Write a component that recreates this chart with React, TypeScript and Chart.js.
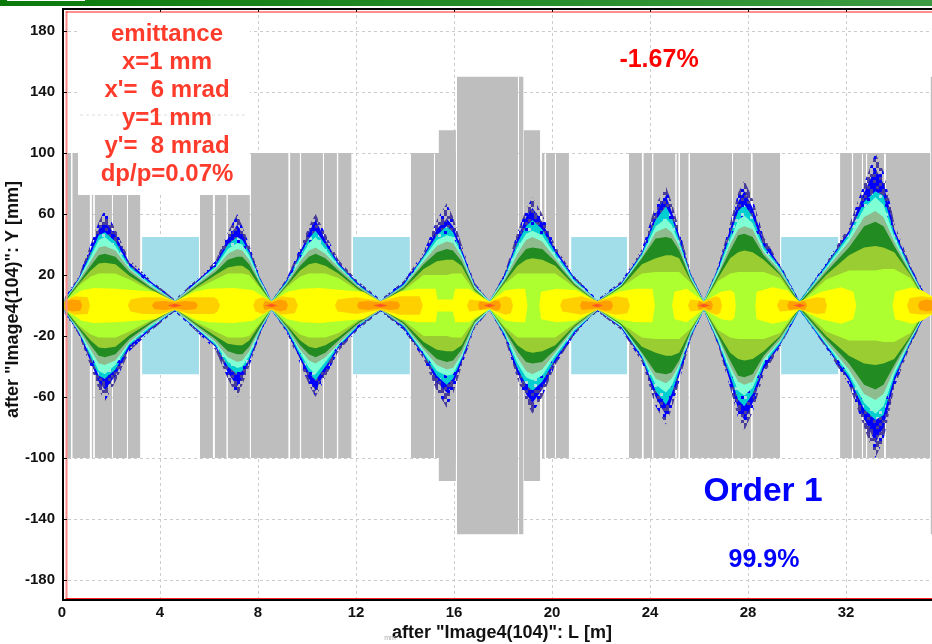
import React, { useEffect, useRef } from "react";
import { Chart, registerables } from "chart.js";

Chart.register(...registerables);

const xTicks = [0, 4, 8, 12, 16, 20, 24, 28, 32];
const yTicks = [-180, -140, -100, -60, -20, 20, 60, 100, 140, 180];

// beam-line elements: start [m], end [m], half aperture [mm]
const apertureStart = [0.2, 0.42, 1.21, 1.33, 2.08, 2.69, 5.63, 6.23, 6.76, 7.71, 9.31, 9.76, 10.69, 11.27, 14.24, 15.22, 15.37, 16.12, 18.65, 18.84, 19.59, 19.76, 20.16, 23.14, 23.73, 24.13, 25.08, 25.22, 25.63, 27.39, 28.18, 31.76, 32.29, 32.69, 32.86, 33.62, 35.45];
const apertureEnd = [0.37, 1.14, 1.28, 2.04, 2.65, 3.2, 6.16, 6.72, 7.67, 9.25, 9.71, 10.65, 11.22, 11.82, 15.18, 16.08, 16.08, 18.61, 18.84, 19.52, 19.7, 20.12, 20.69, 23.67, 24.09, 25.04, 25.17, 25.58, 27.35, 28.12, 29.31, 32.24, 32.65, 32.82, 33.56, 35.43, 35.7];
const apertureHalf = [100, 100, 100, 100, 100, 100, 100, 100, 100, 100, 100, 100, 100, 100, 100, 100, 115, 150, 150, 115, 100, 100, 100, 100, 100, 100, 100, 100, 100, 100, 100, 100, 100, 100, 100, 100, 150];

const driftStart = [3.27, 11.87, 20.78, 29.35];
const driftEnd = [5.59, 14.2, 23.07, 31.69];
const driftHalf = [45, 45, 45, 45];

// beam density envelope stations [m]
const stations = [
  0.1, 0.68, 1.17, 1.5, 1.75, 2.18, 2.75, 3.6,
  4.6, 5.49, 6.26, 6.77, 7.15, 7.36, 7.64, 8.06,
  8.55, 9.18, 9.72, 10.08, 10.35, 10.75, 11.28, 12.07,
  13, 13.95, 14.76, 15.3, 15.7, 15.96, 16.31, 16.84,
  17.45, 18.06, 18.59, 18.94, 19.2, 19.6, 20.13, 20.92,
  21.85, 22.83, 23.67, 24.23, 24.65, 24.88, 25.19, 25.66,
  26.2, 26.78, 27.27, 27.6, 27.85, 28.19, 28.64, 29.31,
  30.1, 31.19, 32.12, 32.74, 33.2, 33.53, 33.97, 34.63,
  35.2, 35.6,
];
const halfIndigo = [5, 19, 40, 55, 63, 50, 30, 17, 4, 17, 29, 48, 60, 52, 40, 20, 3, 18, 38, 52, 60, 47, 30, 16, 4, 16, 35, 56, 67, 58, 40, 15, 3, 21, 48, 63, 71, 60, 39, 19, 4, 16, 37, 66, 78, 68, 50, 22, 3, 26, 54, 74, 82, 70, 45, 27, 3, 28, 52, 80, 100, 88, 54, 26, 8, 5];
const halfBlue = [4, 18, 37, 50, 55, 46, 28, 16, 3, 16, 27, 44, 53, 47, 37, 19, 3, 17, 35, 48, 56, 43, 28, 15, 3, 15, 33, 50, 57, 52, 37, 14, 3, 20, 44, 58, 64, 55, 37, 18, 3, 15, 35, 60, 72, 62, 46, 21, 3, 25, 50, 68, 75, 64, 42, 26, 3, 27, 49, 74, 90, 80, 50, 25, 7, 4];
const halfTurquoise = [4, 17, 34, 46, 48, 42, 26, 15, 3, 15, 26, 40, 45, 43, 35, 18, 3, 16, 33, 44, 49, 40, 27, 14, 3, 14, 32, 46, 52, 48, 35, 13, 3, 19, 41, 52, 56, 50, 35, 17, 3, 14, 34, 56, 65, 58, 43, 20, 3, 24, 46, 62, 66, 58, 39, 25, 3, 26, 47, 68, 75, 72, 47, 24, 6, 4];
const halfAqua = [3, 17, 32, 43, 45, 39, 25, 14, 3, 15, 25, 37, 41, 40, 33, 17, 3, 15, 31, 41, 45, 37, 26, 13, 3, 13, 31, 43, 46, 45, 34, 13, 3, 18, 38, 47, 49, 46, 33, 16, 3, 14, 33, 52, 57, 53, 41, 19, 3, 23, 43, 56, 59, 54, 37, 24, 2, 25, 45, 64, 71, 66, 45, 23, 6, 3];
const halfSeaGreen = [3, 16, 29, 38, 39, 36, 24, 13, 3, 14, 24, 34, 37, 36, 30, 16, 2, 15, 29, 36, 38, 34, 25, 13, 3, 13, 29, 39, 42, 41, 32, 12, 2, 17, 34, 43, 45, 42, 31, 15, 3, 13, 32, 48, 51, 48, 39, 18, 2, 21, 40, 50, 52, 50, 35, 23, 2, 24, 42, 58, 62, 58, 42, 22, 5, 3];
const halfForest = [3, 15, 26, 33, 34, 32, 22, 12, 2, 13, 22, 30, 32, 32, 27, 15, 2, 14, 26, 32, 34, 31, 23, 12, 2, 12, 27, 35, 37, 36, 29, 11, 2, 16, 30, 37, 38, 37, 29, 14, 2, 13, 31, 44, 45, 44, 36, 17, 2, 20, 36, 46, 47, 45, 33, 21, 2, 22, 38, 52, 55, 52, 39, 21, 5, 3];
const halfYellowGreen = [2, 14, 23, 27.5, 28, 27, 19.5, 11, 2, 12, 20, 25, 26, 26, 23, 13, 2, 13, 23, 27, 28, 26, 21, 11, 2, 11, 24, 29, 30, 30, 26, 10, 2, 15, 26, 30, 31, 30, 26, 13, 2, 12, 27, 31, 33, 33, 31, 16, 2, 18, 31, 35, 36, 35, 30, 20, 1, 20, 33, 38, 39, 38, 35, 20, 4, 2];
const halfGreenYellow = [2, 13, 19, 21, 21, 21, 17, 10, 2, 11, 17, 21, 21, 21, 20, 12, 2, 12, 19, 21, 21, 21, 18, 10, 2, 10, 20, 20, 20, 21, 21, 9, 2, 14, 21, 21, 21, 21, 21, 12, 2, 12, 21, 22, 22, 22, 22, 15, 2, 16, 21, 22, 22, 22, 22, 18, 1, 17, 23, 23, 23, 24, 24, 18, 4, 2];

const yellowStations = [0.1, 0.8, 1.3, 2.2, 3.8, 4.6, 5.4, 6, 7, 7.8, 8.55, 9.2, 9.8, 10.5, 11.5, 12.3, 13, 13.8, 14.5, 15.25, 15.32, 15.95, 16.05, 16.6, 17.45, 18.1, 18.6, 18.9, 19, 19.48, 19.55, 20.2, 21, 21.85, 22.7, 23.4, 24.1, 24.2, 24.9, 25, 25.5, 26.2, 26.9, 27.3, 27.45, 27.5, 28.3, 28.35, 29, 29.6, 30.1, 31, 31.8, 32.3, 32.42, 33.9, 34, 34.7, 35.1, 35.6];
const halfYellow = [2.5, 10, 11.5, 11, 9, 2.5, 9, 11, 11.5, 10, 2.5, 9, 11, 11.5, 10, 9, 2.5, 9, 11, 11, 4, 4, 11, 11, 2.5, 10, 11, 11, 0, 0, 9, 11, 10, 2.5, 9, 11, 11, 0, 0, 9, 11, 2.5, 9, 10, 8, 0, 0, 9, 12, 10, 2.5, 9, 12, 9, 0, 0, 9, 12, 10, 5];

const goldStations = [0.1, 0.5, 1.05, 1.14, 2.69, 2.8, 3.3, 4, 4.6, 5.2, 6.2, 6.35, 6.45, 7.8, 7.9, 8.2, 8.55, 8.95, 9.5, 9.63, 11.14, 11.25, 12, 13, 13.8, 14.6, 14.73, 16.53, 16.63, 17.45, 18.1, 18.32, 18.41, 20.33, 20.43, 21.2, 21.85, 22.6, 23.08, 23.18, 25.55, 25.65, 26.2, 26.7, 26.86, 26.94, 29.18, 29.3, 30.1, 30.8, 31.14, 31.22, 34.49, 34.6, 35.1, 35.6];
const halfGold = [3, 6, 5.5, 0, 0, 4, 5.5, 5.5, 3, 5.5, 5.5, 4, 0, 0, 4, 5.5, 3, 6, 5, 0, 0, 4, 5.5, 3, 6, 6, 0, 0, 4, 2.5, 6, 5, 0, 0, 4, 6, 3, 6, 5, 0, 0, 4, 3, 6, 5, 0, 0, 4, 3, 5.5, 5, 0, 0, 5, 6, 5];

const orangeStations = [0.1, 0.4, 0.75, 0.82, 3.67, 3.78, 4.2, 4.6, 5, 5.45, 5.55, 8.2, 8.28, 8.55, 8.9, 9.15, 9.22, 12.04, 12.12, 12.5, 13, 13.4, 13.72, 13.8, 16.98, 17.05, 17.45, 17.7, 17.85, 17.92, 21.14, 21.22, 21.85, 22.2, 22.42, 22.49, 25.92, 26, 26.2, 26.4, 26.5, 26.57, 29.6, 29.68, 30.1, 30.25, 30.34, 30.41, 34.94, 35.02, 35.3, 35.6];
const halfOrange = [2.5, 4, 3.5, 0, 0, 2.5, 3, 2, 3, 2.5, 0, 0, 3, 2, 4, 3, 0, 0, 2.5, 3, 2, 3, 2.5, 0, 0, 3, 1.5, 3.5, 3, 0, 0, 3, 2, 3.5, 3, 0, 0, 3, 1.5, 3, 3, 0, 0, 3, 2, 3, 2.5, 0, 0, 3, 4, 3];

const coreStations = [4.3, 4.6, 4.9, 8.3, 8.55, 8.8, 12.7, 13, 13.3, 17.2, 17.45, 17.7, 21.6, 21.85, 22.1, 25.95, 26.2, 26.45, 29.85, 30.1, 30.35];
const halfCore = [0, 1.2, 0, 0, 1.2, 0, 0, 1.2, 0, 0, 1.2, 0, 0, 1.2, 0, 0, 1.2, 0, 0, 1.2, 0];

const emittanceLines = ["emittance", "x=1 mm", "x'=  6 mrad", "y=1 mm", "y'=  8 mrad", "dp/p=0.07%"];
const xTitle = '  after "Image4(104)": L [m]';
const yTitle = '  after "Image4(104)": Y [mm]';

// speckle textures of the sparse outer density cells
const indigoTile = ["ii.b.ii.", ".i.i..bi", "i.ii.b.i", "bi..ii..", ".i.bi..i", "i..i.bi.", "ii..i.i.", ".ib.i.ib"];
const blueTile = ["bbibb.ib", "ibbbibbb", "bb.ibbbi", "bibbb.bb", "bbbibbib", ".bbbbibb", "bibb.bbb", "bbibbbi."];
const turquoiseTile = ["ttpttttb", "tttttptt", "tbtttttt", "ttttpttt", "pttttttb", "ttttbttt", "ttpttttt", "tttttttp"];
const tileColors: Record<string, string> = { i: "#483d9b", b: "#0000ff", t: "#00ced1", p: "#a8dfe2" };

const SANS = '"Liberation Sans", Arial, sans-serif';

function speckle(tile: string[]) {
  const cw = 3;
  const ch = 3;
  const c = document.createElement("canvas");
  c.width = tile[0].length * cw;
  c.height = tile.length * ch;
  const g = c.getContext("2d") as CanvasRenderingContext2D;
  tile.forEach((row, r) => {
    row.split("").forEach((k, i) => {
      if (tileColors[k]) {
        g.fillStyle = tileColors[k];
        g.fillRect(i * cw, r * ch, cw, ch);
      }
    });
  });
  return g.createPattern(c, "repeat") as CanvasPattern;
}

function band(xs: number[], half: number[], color: any) {
  const upper = {
    type: "line",
    data: xs.map((x, i) => ({ x, y: half[i] })),
    fill: "+1",
    backgroundColor: color,
    borderWidth: 0,
    pointRadius: 0,
    tension: 0,
  };
  const lower = {
    type: "line",
    data: xs.map((x, i) => ({ x, y: -half[i] })),
    fill: false,
    borderWidth: 0,
    pointRadius: 0,
    tension: 0,
  };
  return [upper, lower];
}

function box(start: number, end: number, half: number, color: string) {
  return {
    type: "line",
    data: [{ x: start, y: half }, { x: end, y: half }],
    fill: { value: -half },
    backgroundColor: color,
    borderWidth: 0,
    pointRadius: 0,
  };
}

const overlayPlugin = {
  id: "overlay",
  beforeDraw(chart: any) {
    const { ctx, width } = chart;
    ctx.save();
    ctx.fillStyle = "#ffffff";
    ctx.fillRect(0, 0, chart.width, chart.height);
    const g = ctx.createLinearGradient(0, 0, width, 0);
    g.addColorStop(0, "#0b7a0b");
    g.addColorStop(1, "#3c9a42");
    ctx.fillStyle = g;
    ctx.fillRect(0, 0, width, 6);
    ctx.fillStyle = "#ffffff";
    ctx.fillRect(7, 0, 78, 1);
    ctx.restore();
  },
  afterDraw(chart: any) {
    const { ctx, chartArea: a, scales } = chart;
    ctx.save();
    ctx.fillStyle = "#ffffff";
    ctx.fillRect(78, 14, 172, 181);
    ctx.strokeStyle = "#dddddd";
    ctx.setLineDash([3, 3]);
    ctx.beginPath();
    ctx.moveTo(80, 115);
    ctx.lineTo(248, 115);
    ctx.stroke();
    ctx.setLineDash([]);

    ctx.fillStyle = "#000000";
    ctx.fillRect(a.left, a.top - 1, 2, a.height + 2);
    ctx.fillRect(a.left, a.top - 1, a.width, 2);
    ctx.fillRect(a.left, a.bottom - 1, a.width, 2);
    ctx.fillStyle = "#ff8a8a";
    ctx.fillRect(a.left + 3.5, a.top + 2, 2, a.height - 4);
    ctx.fillStyle = "#ff2020";
    ctx.fillRect(a.left + 4, a.top + 2.5, a.width, 1);
    ctx.fillRect(a.left + 3.5, a.bottom - 2, a.width, 1);

    ctx.fillStyle = "#000000";
    for (const v of yTicks) {
      ctx.fillRect(a.left, Math.round(scales.y.getPixelForValue(v)), 5, 1);
    }
    for (const v of xTicks) {
      ctx.fillRect(Math.round(scales.x.getPixelForValue(v)), a.top, 1, 3);
    }

    ctx.textAlign = "center";
    ctx.textBaseline = "middle";
    ctx.fillStyle = "#ff3b2b";
    ctx.font = `bold 24px ${SANS}`;
    emittanceLines.forEach((line, i) => ctx.fillText(line, 167, 34 + i * 28));
    ctx.fillStyle = "#ff0000";
    ctx.font = `bold 25px ${SANS}`;
    ctx.fillText("-1.67%", 659, 60);
    ctx.fillStyle = "#0000ff";
    ctx.font = `bold 33.5px ${SANS}`;
    ctx.fillText("Order 1", 763, 492);
    ctx.font = `bold 25px ${SANS}`;
    ctx.fillText("99.9%", 764, 560);
    ctx.fillStyle = "#aaaaaa";
    ctx.font = `7px ${SANS}`;
    ctx.fillText("mm", 390, 638);
    ctx.restore();
  },
};

export default function App() {
  const ref = useRef<HTMLCanvasElement | null>(null);
  useEffect(() => {
    const datasets: any[] = [
      ...band(coreStations, halfCore, "#ff5a1e"),
      ...band(orangeStations, halfOrange, "#ffa000"),
      ...band(goldStations, halfGold, "#ffd000"),
      ...band(yellowStations, halfYellow, "#ffff00"),
      ...band(stations, halfGreenYellow, "#adff2f"),
      ...band(stations, halfYellowGreen, "#9acd32"),
      ...band(stations, halfForest, "#228b22"),
      ...band(stations, halfSeaGreen, "#8fbc8f"),
      ...band(stations, halfAqua, "#7fffd4"),
      ...band(stations, halfTurquoise, speckle(turquoiseTile)),
      ...band(stations, halfBlue, speckle(blueTile)),
      ...band(stations, halfIndigo, speckle(indigoTile)),
      ...driftStart.map((s, i) => box(s, driftEnd[i], driftHalf[i], "#a2deea")),
      ...apertureStart.map((s, i) => box(s, apertureEnd[i], apertureHalf[i], "#bebebe")),
    ];
    const chart = new Chart(ref.current as HTMLCanvasElement, {
      type: "line",
      data: { datasets },
      plugins: [overlayPlugin],
      options: {
        animation: false,
        responsive: false,
        layout: { padding: { top: 9, right: 0, left: 0, bottom: 0 } },
        plugins: { legend: { display: false }, tooltip: { enabled: false } },
        scales: {
          x: {
            type: "linear",
            min: 0,
            max: 35.51,
            afterBuildTicks: (s: any) => { s.ticks = xTicks.map((value) => ({ value })); },
            afterFit: (s: any) => { s.height = 44; s.paddingLeft = 0; s.paddingRight = 0; },
            border: { display: false, dash: [3, 3] },
            grid: { color: "#cccccc", lineWidth: 1, tickLength: 0, drawTicks: false },
            ticks: {
              padding: 4,
              maxRotation: 0,
              color: "#111111",
              font: { family: SANS, size: 15, weight: "bold" },
            },
            title: {
              display: true,
              text: xTitle,
              color: "#111111",
              padding: { top: 0, bottom: 0 },
              font: { family: SANS, size: 18, weight: "bold" },
            },
          },
          y: {
            type: "linear",
            min: -193.1,
            max: 194.43,
            afterBuildTicks: (s: any) => { s.ticks = yTicks.map((value) => ({ value })); },
            afterFit: (s: any) => { s.width = 62; s.paddingTop = 0; s.paddingBottom = 0; },
            border: { display: false, dash: [3, 3] },
            grid: { color: "#cccccc", lineWidth: 1, tickLength: 0, drawTicks: false },
            ticks: {
              padding: 7,
              color: "#111111",
              font: { family: SANS, size: 15, weight: "bold" },
            },
            title: {
              display: true,
              text: yTitle,
              color: "#111111",
              padding: { top: 2, bottom: 0 },
              font: { family: SANS, size: 18, weight: "bold" },
            },
          },
        },
      },
    } as any);
    return () => chart.destroy();
  }, []);
  return (
    <div style={{ position: "absolute", left: 0, top: 0, width: 932, height: 644, overflow: "hidden" }}>
      <canvas ref={ref} width={932} height={644} style={{ display: "block" }} />
    </div>
  );
}
